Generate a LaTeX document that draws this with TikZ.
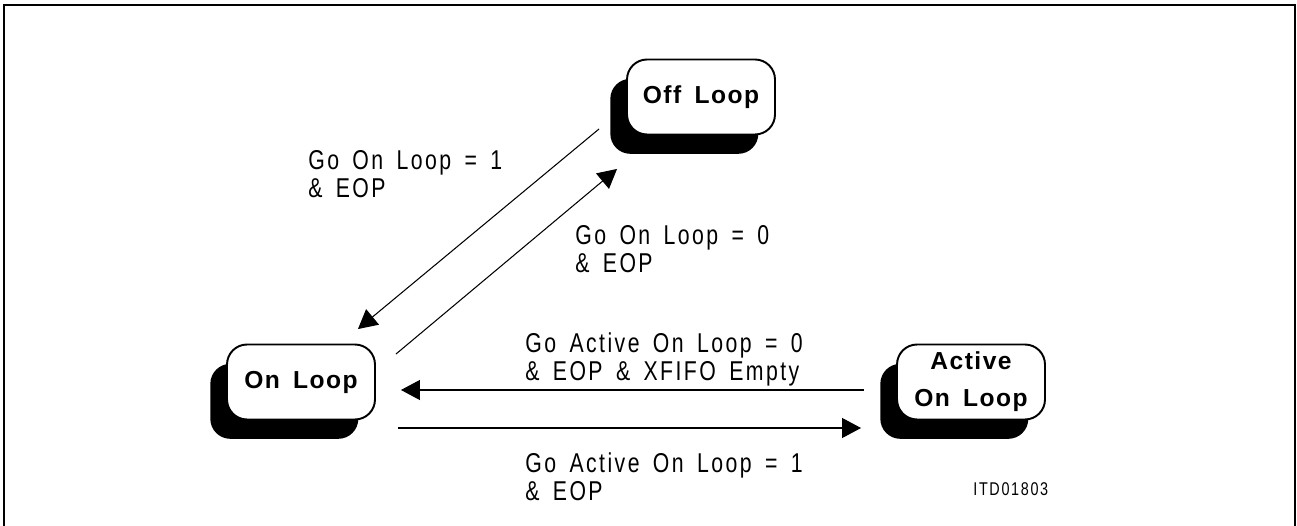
\documentclass[tikz,border=0pt]{standalone}
\usepackage{fontspec}
\usepackage{tikz}
\usetikzlibrary{arrows.meta,shadows}
\newfontfamily\cadfont[FakeStretch=0.78,LetterSpace=9,WordSpace=1.6]{Liberation Sans}
\newfontfamily\boxfont[LetterSpace=6,WordSpace=1.6]{Liberation Sans}

\begin{document}
\begin{tikzpicture}[x=0.02cm,y=-0.02cm,
  stbox/.style={draw,line width=1.1pt,rounded corners=0.4cm,fill=white,minimum width=2.96cm,minimum height=1.5cm,inner sep=4pt,align=center,
    font=\boxfont\bfseries\fontsize{14}{21}\selectfont,drop shadow={shadow xshift=-9.5pt,shadow yshift=-11pt,fill=black,opacity=1}},
  cond/.style={anchor=north west,inner sep=0pt,align=left,font=\cadfont\fontsize{15.5}{16}\selectfont},
  arr/.style={line width=0.6pt,-{Triangle[length=0.38cm,width=0.4cm]}}]
\useasboundingbox (0,0) rectangle (1297,526);
\draw[line width=1.2pt] (4,526) -- (4,5) -- (1295,5) -- (1295,526);
% states
\node[stbox] (off) at (701,97) {Off Loop};
\node[stbox] (on) at (301,382) {On Loop};
\node[stbox] (act) at (971,382) {Active\\On Loop};
% transitions
\draw[arr] ([shift={(-27,-6.5)}]off.south west) -- ([shift={(-18,-14.5)}]on.north east);
\draw[arr] ([shift={(20,10.5)}]on.north east) -- ([shift={(-9,33.5)}]off.south west);
\draw[arr] ([shift={(-32,8)}]act.west) -- ([shift={(25,8)}]on.east);
\draw[arr] ([shift={(22,46)}]on.east) -- ([shift={(-35,46)}]act.west);
% conditions
\node[cond] (c1) at (308,150) {Go On Loop = 1\\\& EOP};
\node[cond] (c2) at (575,225) {Go On Loop = 0\\\& EOP};
\node[cond] (c3) at (525,332) {Go Active On Loop = 0\\\& EOP \& XFIFO Empty};
\node[cond] (c4) at (525,452) {Go Active On Loop = 1\\\& EOP};
\node[anchor=north west,inner sep=0pt,font=\cadfont\fontsize{10.5}{12}\selectfont] (id) at (973,482) {ITD01803};
\end{tikzpicture}
\end{document}
